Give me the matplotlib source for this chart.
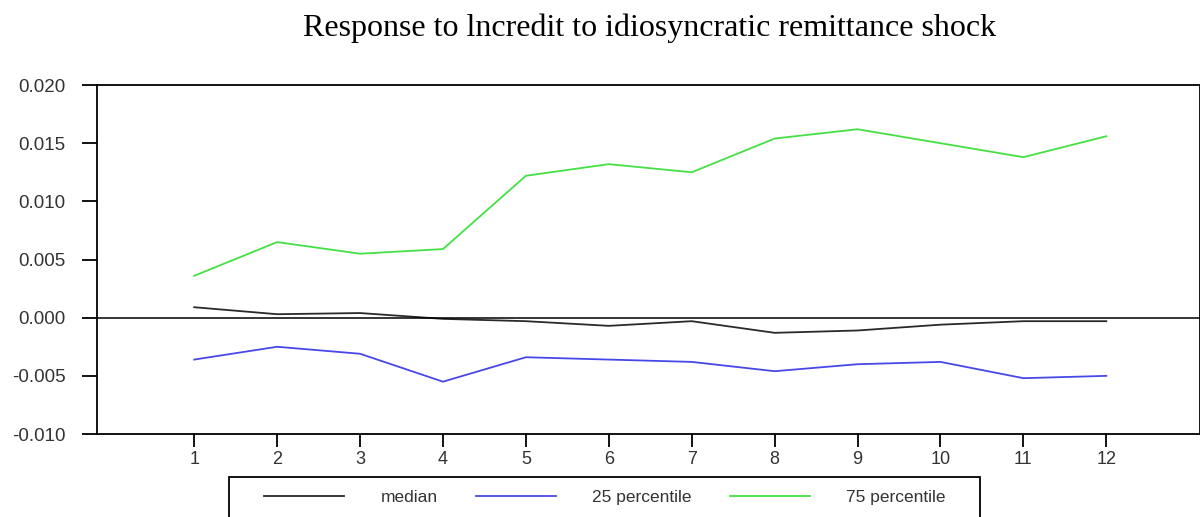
import numpy as np
import matplotlib.pyplot as plt
from matplotlib.patches import Rectangle

plt.rcParams['axes.unicode_minus'] = False

# impulse response periods and percentiles
periods = np.arange(1, 13)
median = [0.0009, 0.0003, 0.0004, -0.0001, -0.0003, -0.0007,
          -0.0003, -0.0013, -0.0011, -0.0006, -0.0003, -0.0003]
p25 = [-0.0036, -0.0025, -0.0031, -0.0055, -0.0034, -0.0036,
       -0.0038, -0.0046, -0.0040, -0.0038, -0.0052, -0.0050]
p75 = [0.0036, 0.0065, 0.0055, 0.0059, 0.0122, 0.0132,
       0.0125, 0.0154, 0.0162, 0.0150, 0.0138, 0.0156]
yticks = [-0.010, -0.005, 0.000, 0.005, 0.010, 0.015, 0.020]

fig = plt.figure(figsize=(12, 5.17), dpi=100)
ax = fig.add_axes([0.081, 0.1605, 0.919, 0.675])

ax.plot(periods, median, color='#2a2a2a', lw=1.3, label='median')
ax.plot(periods, p25, color='#4848e8', lw=1.3, label='25 percentile')
ax.plot(periods, p75, color='#44e044', lw=1.3, label='75 percentile')
ax.axhline(0, color='black', lw=1.1)

ax.set_xlim(-0.17, 13.13)
ax.set_ylim(-0.010, 0.020)
ax.set_xticks(periods)
ax.set_yticks(yticks)
ax.set_yticklabels(['%.3f' % v for v in yticks])

for s in ax.spines.values():
    s.set_linewidth(1.3)
ax.tick_params(axis='y', direction='out', length=11, width=1.3, pad=12,
               labelsize=13.5, labelcolor='#333333')
ax.tick_params(axis='x', direction='out', length=9, width=1.3, pad=3,
               labelsize=13, labelcolor='#333333')
for lbl in ax.get_xticklabels() + ax.get_yticklabels():
    lbl.set_family('Liberation Sans')

fig.text(0.5417, 0.930, 'Response to lncredit to idiosyncratic remittance shock',
         ha='center', va='baseline', fontsize=23, family='Liberation Serif')

# legend box, cut off by the bottom edge of the picture
fig.patches.append(Rectangle((229 / 1200, -0.1), 751 / 1200, 0.1 + 40 / 517,
                             transform=fig.transFigure, fill=False,
                             edgecolor='black', linewidth=1.3))
leg = fig.legend(loc='center left', bbox_to_anchor=(264 / 1200, 1 - 497 / 517),
                 ncol=3, frameon=False, handlelength=4.6, handletextpad=2.1,
                 columnspacing=2.2, borderpad=0, borderaxespad=0,
                 prop={'family': 'Liberation Sans', 'size': 12.5})
for t in leg.get_texts():
    t.set_color('#333333')

fig.savefig('out.png', dpi=100)
